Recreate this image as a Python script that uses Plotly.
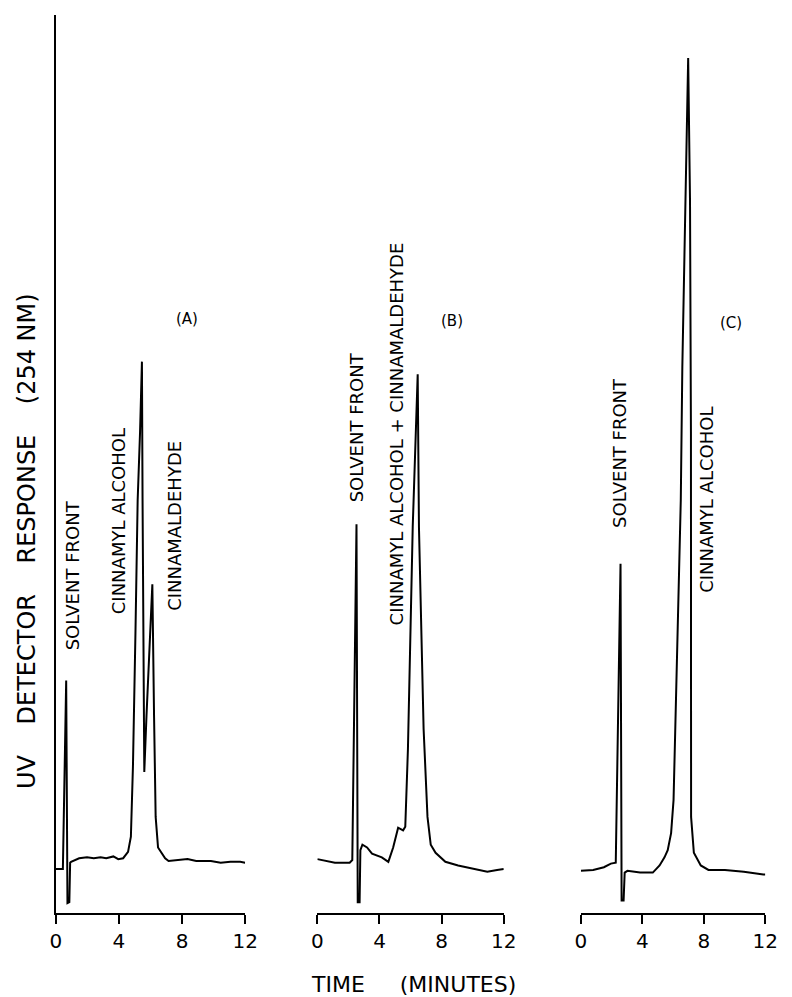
import plotly.graph_objects as go

# ---------------- data (time in minutes, detector response in arbitrary units) ----------------
time_a = [0.0, 0.40, 0.45, 0.66, 0.74, 0.86, 0.91, 0.97, 1.48, 1.98, 2.41, 2.84, 3.20, 3.65,
          3.96, 4.27, 4.58, 4.76, 4.89, 5.05, 5.19, 5.34, 5.46, 5.50, 5.61, 5.75, 5.95, 6.12,
          6.23, 6.33, 6.48, 6.93, 7.15, 7.67, 8.35, 8.90, 9.83, 10.45, 11.07, 11.69, 12.0]
resp_a = [4.9, 4.9, 4.9, 25.9, 1.1, 1.2, 5.6, 5.7, 6.1, 6.2, 6.1, 6.2, 6.1, 6.3,
          6.0, 6.1, 6.8, 8.5, 16.3, 31.2, 46.0, 53.5, 61.4, 46.0, 15.7, 22.0, 30.0, 36.6,
          21.8, 10.7, 7.3, 6.1, 5.8, 5.9, 6.0, 5.8, 5.8, 5.6, 5.7, 5.7, 5.6]

time_b = [0.0, 1.13, 2.08, 2.25, 2.52, 2.60, 2.72, 2.77, 2.90, 3.20, 3.52, 4.15, 4.57, 4.88,
          5.20, 5.52, 5.66, 5.83, 6.14, 6.46, 6.54, 6.84, 7.09, 7.30, 7.61, 8.24, 9.06, 9.94,
          10.94, 11.57, 12.0]
resp_b = [6.0, 5.6, 5.6, 5.9, 43.3, 1.2, 1.2, 7.0, 7.6, 7.3, 6.6, 6.2, 5.7, 7.3,
          9.5, 9.2, 9.6, 18.2, 43.0, 60.0, 43.0, 20.5, 10.7, 7.6, 6.7, 5.7, 5.3, 5.0,
          4.6, 4.8, 4.9]

time_c = [0.0, 0.80, 1.50, 1.95, 2.27, 2.58, 2.65, 2.78, 2.85, 3.03, 3.85, 4.68, 5.12, 5.44,
          5.65, 5.87, 6.03, 6.18, 6.35, 6.50, 6.60, 6.82, 6.98, 7.10, 7.16, 7.17, 7.35, 7.80,
          8.30, 9.37, 10.60, 11.87, 12.0]
resp_c = [4.7, 4.8, 5.1, 5.5, 5.6, 38.9, 1.4, 1.4, 4.5, 4.7, 4.5, 4.5, 5.3, 6.2,
          7.0, 8.9, 12.6, 23.7, 34.8, 46.0, 60.8, 79.4, 95.2, 79.4, 53.5, 10.7, 6.7, 5.3,
          4.8, 4.8, 4.6, 4.3, 4.3]

tick_vals = [0, 4, 8, 12]
tick_text = ["0", "4", "8", "12"]

panel_names = ["(A)", "(B)", "(C)"]
peak_labels_a = ["SOLVENT FRONT", "CINNAMYL ALCOHOL", "CINNAMALDEHYDE"]
peak_labels_b = ["SOLVENT FRONT", "CINNAMYL ALCOHOL + CINNAMALDEHYDE"]
peak_labels_c = ["SOLVENT FRONT", "CINNAMYL ALCOHOL"]

y_title = "UV    DETECTOR    RESPONSE    (254 NM)"
x_title = "TIME     (MINUTES)"

# ---------------- figure ----------------
W, H = 792, 997
FONT = "DejaVu Sans"


def px(x):
    return x / W


def py(y):
    return 1 - y / H


fig = go.Figure()
line_style = dict(color="black", width=2)
fig.add_trace(go.Scatter(x=time_a, y=resp_a, mode="lines", line=line_style,
                         xaxis="x", yaxis="y", showlegend=False))
fig.add_trace(go.Scatter(x=time_b, y=resp_b, mode="lines", line=line_style,
                         xaxis="x2", yaxis="y2", showlegend=False))
fig.add_trace(go.Scatter(x=time_c, y=resp_c, mode="lines", line=line_style,
                         xaxis="x3", yaxis="y3", showlegend=False))

y_dom = [py(913), py(15)]
x_doms = [[px(51), px(245)], [px(319), px(510)], [px(589), px(778)]]

xaxis_common = dict(range=[0, 12], tickvals=tick_vals, ticktext=tick_text,
                    ticks="outside", ticklen=9, tickwidth=2, tickcolor="black",
                    showline=True, linewidth=2, linecolor="black",
                    showgrid=False, zeroline=False, fixedrange=True,
                    tickfont=dict(family=FONT, size=20, color="black"),
                    ticklabelstandoff=0)
yaxis_common = dict(range=[0, 100], domain=y_dom, showgrid=False, zeroline=False,
                    showticklabels=False, ticks="", fixedrange=True)

layout = dict(
    width=W, height=H,
    margin=dict(l=0, r=0, t=0, b=0),
    paper_bgcolor="white", plot_bgcolor="white",
    showlegend=False,
    hovermode=False,
    font=dict(family=FONT, color="black"),
    xaxis=dict(domain=x_doms[0], anchor="y", **xaxis_common),
    xaxis2=dict(domain=x_doms[1], anchor="y2", **xaxis_common),
    xaxis3=dict(domain=x_doms[2], anchor="y3", **xaxis_common),
    yaxis=dict(anchor="x", showline=True, linewidth=2, linecolor="black", **yaxis_common),
    yaxis2=dict(anchor="x2", showline=False, **yaxis_common),
    yaxis3=dict(anchor="x3", showline=False, **yaxis_common),
)
fig.update_layout(**layout)

ann = []


def add_text(text, x, y, size, angle=-90):
    ann.append(dict(text=text, x=px(x), y=py(y), xref="paper", yref="paper",
                    xanchor="center", yanchor="middle", showarrow=False,
                    textangle=angle, font=dict(family=FONT, size=size, color="black")))


add_text(y_title, 21.5, 541, 24)
add_text(x_title, 418, 984, 22, angle=0)

# panel A
add_text(peak_labels_a[0], 68, 575, 18)
add_text(peak_labels_a[1], 115, 521, 18)
add_text(peak_labels_a[2], 172, 526, 18)
add_text(panel_names[0], 185, 319, 15, angle=0)
# panel B
add_text(peak_labels_b[0], 360, 427, 18)
add_text(peak_labels_b[1], 400, 434, 18)
add_text(panel_names[1], 457, 321, 15, angle=0)
# panel C
add_text(peak_labels_c[0], 628, 453, 18)
add_text(peak_labels_c[1], 717, 500, 18)
add_text(panel_names[2], 743, 323, 15, angle=0)

fig.update_layout(annotations=ann)

# let the figure fill the window exactly (no default body margin, no scrollbars)
page_css = ("document.body.style.margin='0';"
            "document.body.style.padding='0';"
            "document.body.style.overflow='hidden';")
fig.write_html("out.html", post_script=page_css,
               config={"responsive": False, "displayModeBar": False, "staticPlot": True})
